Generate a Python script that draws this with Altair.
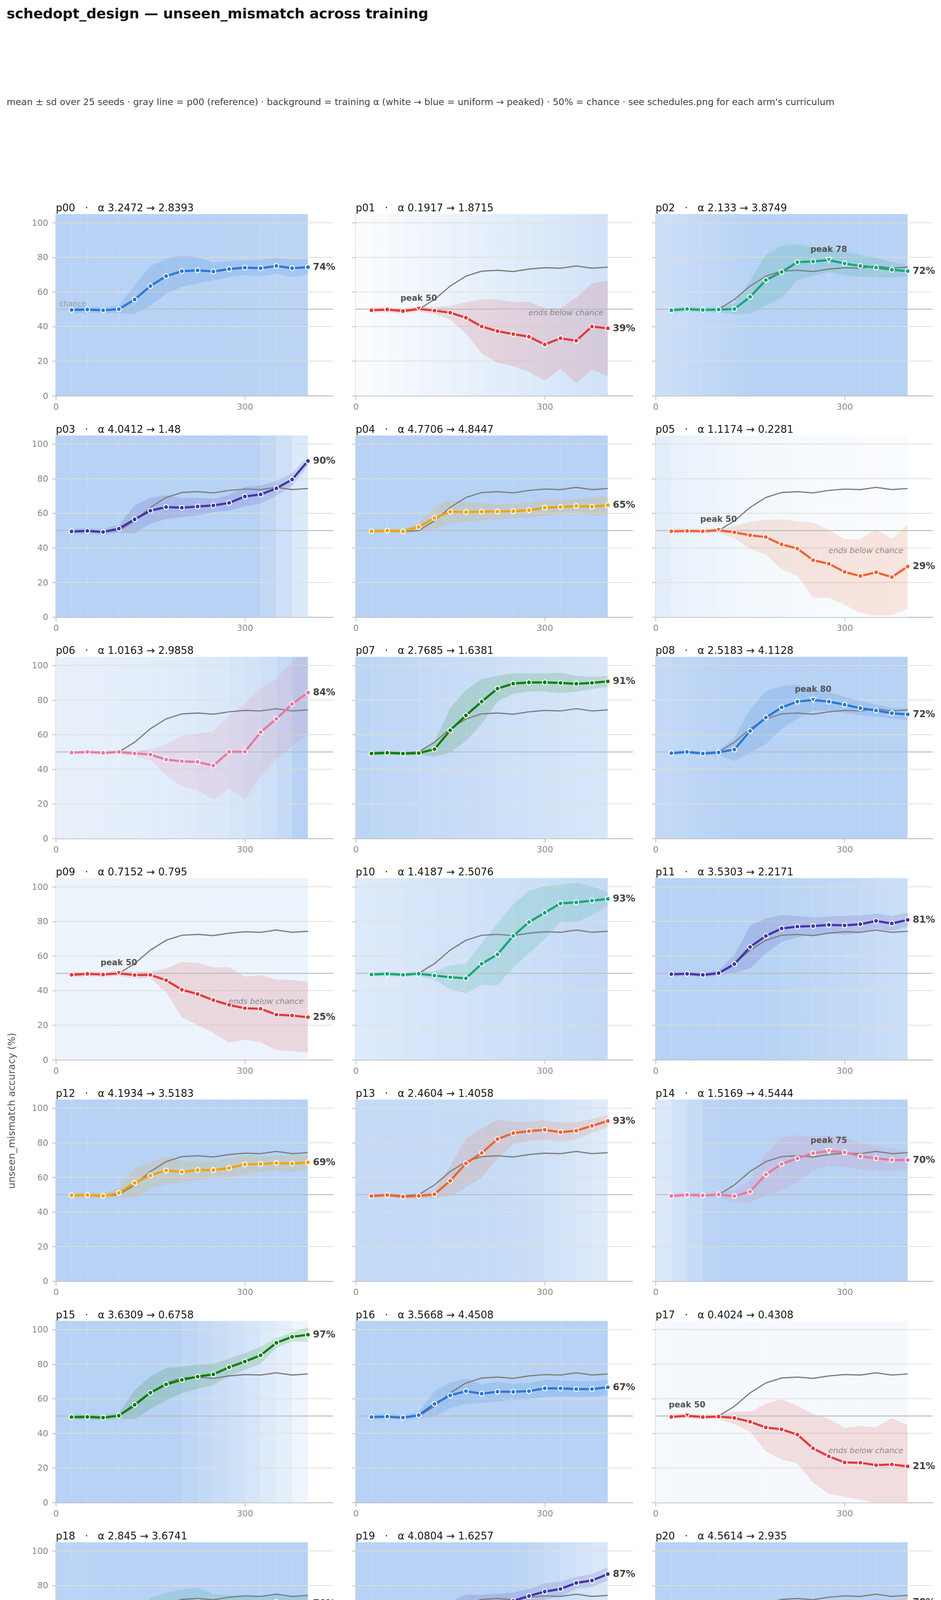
import altair as alt
import pandas as pd

# ---------------- data ----------------
ITERS = [25, 50, 75, 100, 125, 150, 175, 200, 225, 250, 275, 300, 325, 350, 375, 400]
ARMS = ["p00", "p01", "p02", "p03", "p04", "p05", "p06", "p07", "p08", "p09", "p10", "p11",
        "p12", "p13", "p14", "p15", "p16", "p17", "p18", "p19", "p20", "p21", "p22", "p23", "control"]
ALPHA_START = [3.2472, 0.1917, 2.133, 4.0412, 4.7706, 1.1174, 1.0163, 2.7685, 2.5183, 0.7152, 1.4187, 3.5303,
               4.1934, 2.4604, 1.5169, 3.6309, 3.5668, 0.4024, 2.845, 4.0804, 4.5614, 1.5908, 0.9069, 2.3173]
ALPHA_END = [2.8393, 1.8715, 3.8749, 1.48, 4.8447, 0.2281, 2.9858, 1.6381, 4.1128, 0.795, 2.5076, 2.2171,
             3.5183, 1.4058, 4.5444, 0.6758, 4.4508, 0.4308, 3.6741, 1.6257, 2.935, 2.4608, 3.9727, 0.7952]
CONTROL_NOTE = "α 1.6 constant, fresh data ×16"
CHANCE_LEVEL = [50]
Y_TICKS = [20, 40, 60, 80, 100]

mean_p00 = [49.6, 49.8, 49.4, 50.0, 55.6, 63.4, 69.1, 72.0, 72.5, 71.8, 73.2, 74.0, 73.7, 75.0, 73.7, 74.3]
sd_p00 = [1.9, 1.8, 1.7, 2.2, 8.3, 11.4, 10.2, 9.1, 7.6, 5.1, 4.7, 4.3, 4.7, 4.6, 5.0, 4.3]
mean_p01 = [49.4, 49.8, 48.9, 50.2, 49.2, 48.0, 45.1, 40.0, 37.3, 35.6, 34.1, 29.6, 33.2, 31.8, 40.0, 38.9]
sd_p01 = [1.7, 1.6, 1.6, 1.6, 2.0, 3.9, 9.1, 15.6, 18.3, 18.5, 20.4, 21.0, 17.5, 24.7, 25.0, 27.5]
mean_p02 = [49.4, 50.1, 49.6, 49.8, 50.1, 57.1, 66.8, 71.5, 77.2, 77.6, 78.4, 76.4, 75.0, 74.1, 72.8, 72.0]
sd_p02 = [1.4, 1.5, 1.4, 1.5, 3.3, 9.5, 14.6, 15.0, 10.4, 8.4, 6.9, 6.8, 6.3, 5.6, 4.5, 3.2]
mean_p03 = [49.5, 49.8, 49.2, 51.1, 56.5, 61.5, 63.6, 63.2, 63.9, 64.5, 66.0, 69.7, 70.9, 74.4, 79.5, 90.2]
sd_p03 = [1.4, 1.5, 1.6, 2.3, 8.0, 7.5, 6.9, 5.5, 5.0, 3.9, 4.5, 5.6, 5.2, 4.2, 3.7, 2.7]
mean_p04 = [49.6, 50.0, 49.5, 52.1, 57.3, 60.9, 60.7, 60.9, 61.0, 61.2, 61.8, 63.2, 63.6, 64.2, 63.8, 64.7]
sd_p04 = [1.1, 1.1, 1.2, 2.3, 6.4, 7.0, 5.5, 5.1, 4.7, 4.2, 4.4, 4.7, 4.0, 4.1, 5.4, 5.3]
mean_p05 = [49.6, 49.8, 49.6, 50.2, 49.0, 47.3, 46.2, 42.0, 39.6, 32.9, 30.8, 26.1, 23.7, 25.9, 23.1, 29.2]
sd_p05 = [1.4, 1.4, 1.4, 1.3, 3.5, 7.8, 10.0, 14.4, 15.8, 21.7, 19.6, 19.0, 21.3, 25.0, 22.0, 24.3]
mean_p06 = [49.6, 50.0, 49.5, 50.0, 49.1, 48.5, 45.6, 44.6, 44.2, 42.1, 50.1, 50.1, 61.4, 69.1, 77.7, 84.3]
sd_p06 = [1.0, 1.1, 1.1, 1.1, 1.7, 3.2, 9.0, 14.6, 16.3, 19.8, 21.2, 27.8, 25.6, 23.1, 24.5, 24.7]
mean_p07 = [49.1, 49.5, 49.1, 49.3, 51.6, 62.5, 71.1, 79.1, 86.6, 89.5, 90.2, 90.2, 89.9, 89.4, 89.9, 90.8]
sd_p07 = [1.2, 1.2, 1.2, 1.2, 4.4, 12.9, 14.6, 13.0, 7.4, 5.9, 5.3, 5.2, 5.9, 4.6, 3.5, 3.2]
mean_p08 = [49.3, 50.0, 49.1, 49.7, 51.4, 62.1, 69.9, 75.7, 79.1, 80.0, 79.1, 77.3, 75.3, 74.0, 72.4, 71.7]
sd_p08 = [1.2, 1.2, 1.2, 1.5, 6.7, 12.6, 15.2, 12.4, 9.8, 6.2, 5.4, 4.6, 4.2, 3.5, 3.1, 3.4]
mean_p09 = [49.1, 49.7, 49.3, 50.0, 49.0, 49.1, 46.0, 40.5, 38.0, 34.5, 31.7, 29.8, 29.5, 26.1, 25.6, 24.6]
sd_p09 = [1.5, 1.5, 1.5, 1.5, 2.0, 1.9, 6.8, 16.0, 18.0, 19.0, 21.8, 18.2, 19.4, 20.3, 20.6, 20.5]
mean_p10 = [49.3, 49.7, 49.1, 49.8, 48.7, 47.7, 47.1, 55.5, 60.9, 71.6, 79.6, 85.0, 90.4, 91.0, 92.0, 93.0]
sd_p10 = [1.3, 1.3, 1.3, 1.3, 2.5, 6.9, 8.6, 12.2, 17.9, 18.3, 18.0, 15.4, 10.7, 11.5, 8.3, 3.8]
mean_p11 = [49.5, 49.7, 49.1, 50.1, 55.3, 65.2, 71.6, 75.9, 77.0, 77.3, 78.0, 77.7, 78.4, 80.3, 78.8, 80.9]
sd_p11 = [1.2, 1.2, 1.3, 1.5, 5.2, 12.2, 10.1, 7.7, 6.2, 5.0, 4.7, 5.6, 5.1, 4.3, 4.3, 4.0]
mean_p12 = [49.6, 49.8, 49.3, 51.0, 56.8, 61.1, 64.0, 63.1, 64.2, 64.2, 65.4, 67.5, 67.7, 68.3, 67.9, 68.7]
sd_p12 = [1.4, 1.4, 1.4, 2.9, 8.5, 7.4, 8.1, 6.2, 5.6, 4.9, 5.4, 5.4, 4.5, 4.2, 4.9, 4.0]
mean_p13 = [49.2, 49.8, 48.9, 49.3, 50.2, 58.0, 68.1, 74.1, 82.1, 85.6, 86.7, 87.5, 86.1, 87.0, 89.8, 92.6]
sd_p13 = [1.2, 1.2, 1.2, 1.5, 2.2, 8.6, 14.2, 14.2, 11.3, 6.4, 5.6, 5.5, 5.6, 4.9, 4.0, 3.5]
mean_p14 = [49.3, 49.9, 49.6, 50.1, 49.2, 51.8, 61.7, 67.7, 71.0, 74.0, 75.2, 74.5, 72.2, 71.0, 70.1, 70.0]
sd_p14 = [1.3, 1.3, 1.3, 1.5, 3.5, 6.4, 12.0, 15.3, 13.5, 9.9, 8.8, 8.5, 7.7, 6.9, 6.6, 5.3]
mean_p15 = [49.4, 49.5, 49.1, 50.2, 56.5, 63.5, 68.3, 70.9, 72.8, 74.1, 78.2, 81.5, 85.1, 92.3, 95.8, 97.0]
sd_p15 = [1.4, 1.4, 1.4, 1.6, 8.3, 9.4, 9.3, 7.6, 7.0, 6.2, 5.0, 4.8, 4.9, 2.7, 2.6, 4.2]
mean_p16 = [49.4, 49.7, 49.1, 50.5, 57.0, 61.9, 64.4, 62.9, 64.1, 64.0, 64.4, 66.0, 66.0, 65.6, 65.6, 66.6]
sd_p16 = [1.4, 1.4, 1.4, 1.7, 7.4, 7.4, 7.4, 5.4, 5.8, 4.5, 4.8, 5.0, 4.7, 4.5, 4.5, 4.7]
mean_p17 = [49.5, 50.2, 49.4, 49.7, 48.9, 46.7, 43.4, 42.3, 39.3, 31.3, 26.7, 23.2, 23.0, 21.6, 22.0, 20.9]
sd_p17 = [1.4, 1.4, 1.4, 1.4, 3.6, 5.8, 13.8, 17.4, 16.6, 19.9, 21.6, 20.0, 21.3, 22.0, 26.9, 23.9]
mean_p18 = [49.1, 49.8, 49.3, 50.1, 54.6, 62.5, 66.0, 69.2, 70.3, 69.2, 69.1, 69.7, 69.2, 70.6, 69.5, 69.7]
sd_p18 = [1.4, 1.4, 1.4, 1.8, 6.0, 10.3, 9.6, 8.6, 8.4, 5.8, 5.4, 4.8, 4.8, 4.0, 4.4, 4.3]
mean_p19 = [49.3, 49.7, 49.3, 50.9, 57.5, 63.3, 66.6, 68.1, 69.7, 71.1, 73.9, 76.5, 78.0, 81.5, 82.9, 86.6]
sd_p19 = [1.5, 1.5, 1.5, 2.4, 8.4, 7.5, 8.2, 6.5, 5.5, 4.8, 4.1, 4.7, 4.3, 3.5, 3.8, 3.8]
mean_p20 = [49.5, 50.0, 49.3, 51.4, 57.1, 60.8, 61.8, 61.3, 62.7, 62.8, 63.5, 65.6, 66.6, 68.5, 67.8, 70.3]
sd_p20 = [1.4, 1.4, 1.4, 2.1, 7.2, 7.2, 5.6, 5.0, 5.0, 4.2, 4.3, 4.9, 4.6, 3.6, 3.5, 3.5]
mean_p21 = [49.5, 49.5, 49.5, 50.0, 49.3, 49.1, 54.1, 59.9, 71.1, 78.8, 85.8, 89.7, 90.6, 89.3, 90.4, 90.1]
sd_p21 = [1.4, 1.4, 1.4, 1.2, 2.3, 3.9, 7.6, 15.2, 19.3, 18.0, 14.9, 10.8, 9.9, 9.4, 5.4, 6.0]
mean_p22 = [49.5, 49.5, 49.9, 49.9, 49.5, 48.6, 46.2, 46.4, 48.7, 51.2, 57.4, 63.3, 71.4, 76.6, 84.6, 90.9]
sd_p22 = [1.4, 1.4, 1.3, 1.3, 2.1, 3.2, 9.3, 11.6, 14.0, 17.2, 22.5, 27.3, 25.6, 23.0, 16.4, 11.5]
mean_p23 = [49.3, 49.7, 49.3, 49.7, 48.9, 48.1, 51.2, 55.3, 61.7, 62.1, 62.9, 61.1, 65.4, 63.1, 64.0, 62.3]
sd_p23 = [1.5, 1.5, 1.5, 1.5, 2.3, 6.7, 15.2, 21.9, 23.0, 26.0, 26.8, 30.5, 27.6, 29.2, 29.8, 30.4]
mean_ctl = [49.4, 49.6, 49.4, 49.6, 48.9, 48.5, 46.7, 50.1, 52.8, 59.8, 63.2, 67.9, 70.7, 76.7, 81.2, 84.2]
sd_ctl = [1.7, 1.6, 1.6, 1.5, 2.2, 5.7, 11.2, 14.2, 18.7, 24.8, 23.1, 23.8, 24.2, 27.9, 27.1, 24.6]

# training alpha per 25-iteration segment (background)
alpha_p00 = [3.25, 3.22, 3.19, 3.17, 3.14, 3.11, 3.09, 3.06, 3.03, 3.01, 2.98, 2.95, 2.92, 2.89, 2.87, 2.84]
alpha_p01 = [0.19, 0.30, 0.42, 0.53, 0.64, 0.75, 0.86, 0.98, 1.09, 1.20, 1.31, 1.42, 1.53, 1.65, 1.76, 1.87]
alpha_p02 = [2.13, 2.30, 2.45, 2.60, 2.75, 2.90, 3.05, 3.20, 3.30, 3.40, 3.50, 3.60, 3.68, 3.75, 3.82, 3.87]
alpha_p03 = [4.04, 4.00, 3.95, 3.90, 3.85, 3.78, 3.70, 3.60, 3.50, 3.40, 3.25, 3.10, 3.00, 2.60, 2.10, 1.48]
alpha_p04 = [4.77, 4.78, 4.78, 4.79, 4.79, 4.80, 4.80, 4.81, 4.81, 4.82, 4.82, 4.83, 4.83, 4.84, 4.84, 4.84]
alpha_p05 = [1.12, 0.95, 0.82, 0.71, 0.62, 0.55, 0.49, 0.44, 0.40, 0.36, 0.33, 0.30, 0.28, 0.26, 0.24, 0.23]
alpha_p06 = [1.02, 1.03, 1.05, 1.08, 1.11, 1.15, 1.20, 1.26, 1.34, 1.44, 1.56, 1.70, 1.88, 2.10, 2.45, 2.99]
alpha_p07 = [2.77, 2.69, 2.62, 2.54, 2.47, 2.39, 2.32, 2.24, 2.17, 2.09, 2.02, 1.94, 1.87, 1.79, 1.71, 1.64]
alpha_p08 = [2.52, 2.63, 2.73, 2.84, 2.94, 3.05, 3.15, 3.26, 3.37, 3.47, 3.58, 3.68, 3.79, 3.89, 4.00, 4.11]
alpha_p09 = [0.72, 0.72, 0.73, 0.73, 0.74, 0.74, 0.75, 0.75, 0.76, 0.76, 0.77, 0.77, 0.78, 0.78, 0.79, 0.80]
alpha_p10 = [1.42, 1.49, 1.56, 1.64, 1.71, 1.78, 1.85, 1.93, 2.00, 2.07, 2.15, 2.22, 2.29, 2.36, 2.44, 2.51]
alpha_p11 = [3.53, 3.44, 3.36, 3.27, 3.18, 3.09, 3.00, 2.92, 2.83, 2.74, 2.65, 2.57, 2.48, 2.39, 2.30, 2.22]
alpha_p12 = [4.19, 4.15, 4.10, 4.06, 4.01, 3.97, 3.92, 3.88, 3.83, 3.79, 3.74, 3.70, 3.65, 3.61, 3.56, 3.52]
alpha_p13 = [2.46, 2.46, 2.45, 2.45, 2.44, 2.43, 2.42, 2.40, 2.37, 2.33, 2.25, 2.12, 1.96, 1.78, 1.60, 1.41]
alpha_p14 = [1.52, 1.95, 2.40, 2.85, 3.20, 3.50, 3.70, 3.90, 4.00, 4.10, 4.20, 4.28, 4.35, 4.42, 4.48, 4.54]
alpha_p15 = [3.63, 3.60, 3.56, 3.50, 3.42, 3.32, 3.20, 3.00, 2.75, 2.50, 2.25, 2.00, 1.72, 1.42, 1.10, 0.68]
alpha_p16 = [3.57, 3.63, 3.69, 3.75, 3.80, 3.86, 3.92, 3.98, 4.04, 4.10, 4.16, 4.22, 4.28, 4.34, 4.39, 4.45]
alpha_p17 = [0.40, 0.40, 0.41, 0.41, 0.41, 0.41, 0.41, 0.42, 0.42, 0.42, 0.42, 0.42, 0.42, 0.43, 0.43, 0.43]
alpha_p18 = [2.85, 2.90, 2.96, 3.01, 3.07, 3.12, 3.18, 3.23, 3.29, 3.34, 3.40, 3.45, 3.51, 3.56, 3.62, 3.67]
alpha_p19 = [4.08, 4.05, 4.00, 3.95, 3.88, 3.80, 3.70, 3.55, 3.35, 3.10, 2.85, 2.60, 2.35, 2.10, 1.85, 1.63]
alpha_p20 = [4.56, 4.45, 4.34, 4.23, 4.13, 4.02, 3.91, 3.80, 3.70, 3.59, 3.48, 3.37, 3.26, 3.16, 3.05, 2.94]
alpha_p21 = [1.59, 1.65, 1.71, 1.77, 1.82, 1.88, 1.94, 2.00, 2.05, 2.11, 2.17, 2.23, 2.29, 2.34, 2.40, 2.46]
alpha_p22 = [0.91, 0.93, 0.96, 1.00, 1.04, 1.09, 1.15, 1.22, 1.45, 1.70, 1.95, 2.40, 3.00, 3.40, 3.75, 3.97]
alpha_p23 = [2.32, 1.95, 1.70, 1.50, 1.38, 1.27, 1.18, 1.10, 1.04, 0.99, 0.94, 0.90, 0.87, 0.84, 0.82, 0.80]
alpha_ctl = [1.6, 1.6, 1.6, 1.6, 1.6, 1.6, 1.6, 1.6, 1.6, 1.6, 1.6, 1.6, 1.6, 1.6, 1.6, 1.6]

MEANS = [mean_p00, mean_p01, mean_p02, mean_p03, mean_p04, mean_p05, mean_p06, mean_p07, mean_p08,
         mean_p09, mean_p10, mean_p11, mean_p12, mean_p13, mean_p14, mean_p15, mean_p16, mean_p17,
         mean_p18, mean_p19, mean_p20, mean_p21, mean_p22, mean_p23, mean_ctl]
SDS = [sd_p00, sd_p01, sd_p02, sd_p03, sd_p04, sd_p05, sd_p06, sd_p07, sd_p08, sd_p09, sd_p10, sd_p11,
       sd_p12, sd_p13, sd_p14, sd_p15, sd_p16, sd_p17, sd_p18, sd_p19, sd_p20, sd_p21, sd_p22, sd_p23, sd_ctl]
ALPHAS = [alpha_p00, alpha_p01, alpha_p02, alpha_p03, alpha_p04, alpha_p05, alpha_p06, alpha_p07,
          alpha_p08, alpha_p09, alpha_p10, alpha_p11, alpha_p12, alpha_p13, alpha_p14, alpha_p15,
          alpha_p16, alpha_p17, alpha_p18, alpha_p19, alpha_p20, alpha_p21, alpha_p22, alpha_p23, alpha_ctl]

# ---------------- styling ----------------
FONT = "DejaVu Sans"
PALETTE = ["#2a78d6", "#e03b3b", "#14a77a", "#4534a8", "#efa300", "#ec6432", "#e8799f", "#0a7f0a"]
ARM_COLORS = [PALETTE[i % len(PALETTE)] for i in range(len(ARMS))]
BG_FULL = "#b7d2f4"
PANEL_W, PANEL_H = 710, 465
SEP = "\u00a0\u00a0\u00a0·\u00a0\u00a0\u00a0"

# ---------------- tables built from the arrays ----------------
rows = []
bg_rows = []
for k, arm in enumerate(ARMS):
    m, s = MEANS[k], SDS[k]
    pk = max(range(len(m)), key=lambda i: m[i])
    show_peak = (m[pk] - m[-1]) >= 5
    for i, it in enumerate(ITERS):
        rows.append({"arm": arm, "it": it, "mean": m[i], "sd": s[i],
                     "peak": bool(show_peak and i == pk), "last": i == len(ITERS) - 1})
    edges = [0] + ITERS
    for i, a in enumerate(ALPHAS[k]):
        bg_rows.append({"arm": arm, "x0": edges[i], "x1": edges[i + 1], "a": a})
DATA = pd.DataFrame(rows)
BG = pd.DataFrame(bg_rows)
GRID = pd.DataFrame({"v": Y_TICKS})
CHANCE = pd.DataFrame({"x": [0], "y": CHANCE_LEVEL, "lab": ["chance"]})

XS = alt.Scale(domain=[0, 440], nice=False, zero=False)
YS = alt.Scale(domain=[0, 105], nice=False, zero=False)
ARM_SCALE = alt.Scale(domain=ARMS, range=ARM_COLORS)
BG_SCALE = alt.Scale(domain=[0, 3], range=["#ffffff", BG_FULL], clamp=True, interpolate="rgb")

AXIS_STYLE = dict(domainColor="#bdbdbd", domainWidth=2.5, tickColor="#bdbdbd", tickWidth=2,
                  tickSize=10, labelColor="#8a8a8a", labelFontSize=22, labelFont=FONT,
                  labelFlush=False, labelOverlap=False, grid=False,
                  titleFont=FONT, titleFontSize=25, titleColor="#555555", titleFontWeight="normal")


def make_axes(arm, col):
    if arm == "control":
        xax = alt.Axis(values=[0, 300], title="training iteration", titleX=1057, titleY=111,
                       titleAlign="center", titleBaseline="middle", labelPadding=8, **AXIS_STYLE)
    else:
        xax = alt.Axis(values=[0, 300], title=None, labelPadding=8, **AXIS_STYLE)
    if arm == "p09":
        yax = alt.Axis(values=[0, 20, 40, 60, 80, 100], labels=(col == 0), labelPadding=10,
                       title="unseen_mismatch accuracy (%)", titleX=-114, titleY=595,
                       titleAlign="center", titleBaseline="middle", titleAngle=270, **AXIS_STYLE)
    else:
        yax = alt.Axis(values=[0, 20, 40, 60, 80, 100], labels=(col == 0), labelPadding=10,
                       title=None, **AXIS_STYLE)
    return xax, yax


def panel(k, arm):
    col = k % 3
    xax, yax = make_axes(arm, col)

    def X(field):
        return alt.X(field, type="quantitative", scale=XS, axis=xax)

    def Y(field):
        return alt.Y(field, type="quantitative", scale=YS, axis=yax)

    f = f"datum.arm == '{arm}'"
    layers = []
    layers.append(alt.Chart(BG).transform_filter(f).mark_rect().encode(
        x=X("x0"), x2=alt.X2("x1"),
        color=alt.Color("a:Q", scale=BG_SCALE, legend=None)))
    layers.append(alt.Chart(GRID).mark_rule(color="#e0dfd8", strokeWidth=2).encode(y=Y("v")))
    layers.append(alt.Chart(DATA).transform_filter(f).transform_calculate(
        lo="datum.mean - datum.sd", hi="datum.mean + datum.sd").mark_area(
        opacity=0.15, clip=True).encode(
        x=X("it"), y=Y("lo"), y2=alt.Y2("hi"),
        fill=alt.Fill("arm:N", scale=ARM_SCALE, legend=None)))
    layers.append(alt.Chart(CHANCE).mark_rule(color="#bdbdbd", strokeWidth=2.5).encode(y=Y("y")))
    if arm != "p00":
        layers.append(alt.Chart(DATA).transform_filter("datum.arm == 'p00'").mark_line(
            color="#808080", strokeWidth=3.2).encode(x=X("it"), y=Y("mean")))
    layers.append(alt.Chart(DATA).transform_filter(f).mark_line(strokeWidth=5.5).encode(
        x=X("it"), y=Y("mean"), stroke=alt.Stroke("arm:N", scale=ARM_SCALE, legend=None)))
    layers.append(alt.Chart(DATA).transform_filter(f + " && !datum.peak").mark_circle(
        size=150, stroke="white", strokeWidth=2.5, opacity=1).encode(
        x=X("it"), y=Y("mean"), fill=alt.Fill("arm:N", scale=ARM_SCALE, legend=None)))
    layers.append(alt.Chart(DATA).transform_filter(f + " && datum.peak").mark_point(
        shape="triangle-down", filled=True, size=230, stroke="white", strokeWidth=2.5, opacity=1).encode(
        x=X("it"), y=Y("mean"), fill=alt.Fill("arm:N", scale=ARM_SCALE, legend=None)))
    # final value label
    layers.append(alt.Chart(DATA).transform_filter(f + " && datum.last").transform_calculate(
        lab="format(datum.mean, '.0f') + '%'").mark_text(
        align="left", baseline="middle", dx=13, font=FONT, fontSize=24, fontWeight="bold",
        color="#444444").encode(x=X("it"), y=Y("mean"), text="lab:N"))
    # peak label
    layers.append(alt.Chart(DATA).transform_filter(f + " && datum.peak").transform_calculate(
        lab="'peak ' + format(datum.mean, '.0f')").mark_text(
        align="center", baseline="middle", dy=-27, font=FONT, fontSize=21, fontWeight="bold",
        color="#555555").encode(x=X("it"), y=Y("mean"), text="lab:N"))
    # ends below chance
    layers.append(alt.Chart(DATA).transform_filter(f + " && datum.last && datum.mean < 50").transform_calculate(
        lab="'ends below chance'").mark_text(
        align="right", baseline="middle", dx=-11, dy=-40, font=FONT, fontSize=20, fontStyle="italic",
        color="#8a8a8a").encode(x=X("it"), y=Y("mean"), text="lab:N"))
    if arm == "p00":
        layers.append(alt.Chart(CHANCE).mark_text(
            align="left", baseline="middle", dx=9, dy=-14, font=FONT, fontSize=19,
            color="#999999").encode(x=X("x"), y=Y("y"), text="lab:N"))

    if arm == "control":
        title_text = f"control{SEP}{CONTROL_NOTE}"
    else:
        title_text = f"{arm}{SEP}α {ALPHA_START[k]} → {ALPHA_END[k]}"
    return alt.layer(*layers).properties(
        width=PANEL_W, height=PANEL_H,
        title=alt.TitleParams(text=title_text, anchor="start", frame="group", font=FONT, fontSize=26,
                              fontWeight="normal", color="#1a1a1a", offset=-19,
                              baseline="alphabetic"))


panels = [panel(k, arm) for k, arm in enumerate(ARMS)]

SUBTITLE = ("mean ± sd over 25 seeds · gray line = p00 (reference) · background = training α "
            "(white → blue = uniform → peaked) · 50% = chance · see schedules.png for each arm's curriculum")

chart = alt.concat(*panels, columns=3, spacing={"row": 101.7, "column": 58}).properties(
    bounds="flush",
    padding={"left": 9, "top": 9, "right": 4, "bottom": 4},
    title=alt.TitleParams(
        text="schedopt_design — unseen_mismatch across training",
        subtitle=SUBTITLE, anchor="start", frame="bounds", font=FONT, fontSize=36,
        fontWeight="bold", color="#111111", subtitleFont=FONT, subtitleFontSize=23.5,
        subtitleColor="#444444", subtitlePadding=195, offset=246),
).configure(font=FONT).configure_view(strokeWidth=0)

chart.save("out.html", embed_options={"renderer": "svg", "actions": False})
